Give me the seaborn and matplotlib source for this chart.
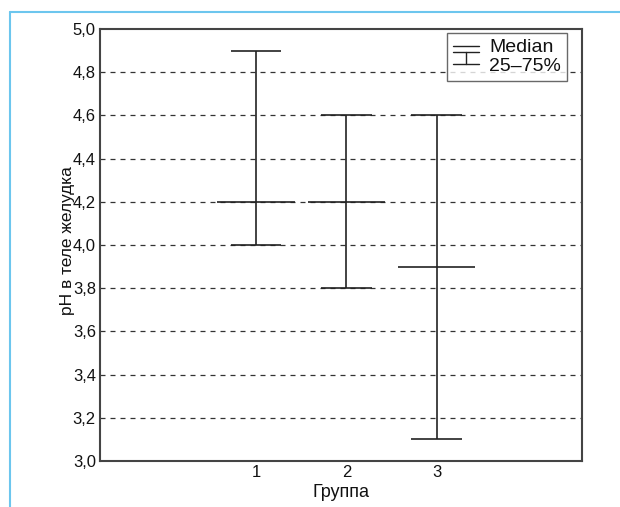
import numpy as np
import matplotlib
matplotlib.use("Agg")
import matplotlib.pyplot as plt
import seaborn as sns
from matplotlib.lines import Line2D
from matplotlib.legend_handler import HandlerBase
from matplotlib.ticker import FuncFormatter

# data
groups = [1, 2, 3]
medians = [4.2, 4.2, 3.9]
q25 = [4.0, 3.8, 3.1]
q75 = [4.9, 4.6, 4.6]

sns.set_style("white")
plt.rcParams['font.family'] = ['Liberation Sans', 'DejaVu Sans']

fig = plt.figure(figsize=(6.2, 5.07), dpi=100)
ax = fig.add_axes([100 / 620, 1 - 461 / 507, 482 / 620, 432 / 507])

dark = "#222222"
g = np.array(groups)
ax.vlines(groups, q25, q75, color=dark, lw=1.2)
ax.hlines(q25, g - 0.28, g + 0.28, color=dark, lw=1.2)
ax.hlines(q75, g - 0.28, g + 0.28, color=dark, lw=1.2)
ax.hlines(medians, g - 0.43, g + 0.43, color=dark, lw=1.2)

ax.set_xlim(-0.73, 4.61)
ax.set_ylim(3.0, 5.0)
ax.set_xticks(groups)
ax.set_yticks(np.arange(3.0, 5.01, 0.2))
ax.yaxis.set_major_formatter(FuncFormatter(lambda v, p: f"{v:.1f}".replace(".", ",")))
ax.tick_params(length=0, labelsize=12, pad=3, colors="#111111")
for yv in np.arange(3.2, 4.81, 0.2):
    ax.axhline(yv, color="#333333", lw=0.9, ls=(0, (4, 4)), zorder=0)
for s in ax.spines.values():
    s.set_color("#444444")
    s.set_linewidth(1.5)

ax.set_ylabel("pH в теле желудка", fontsize=12.5, labelpad=0, color="#111111")
ax.yaxis.set_label_coords(-0.052, 0.51)
ax.set_xlabel("Группа", fontsize=13, labelpad=3, color="#111111")


class RangeHandler(HandlerBase):
    def create_artists(self, legend, orig, xd, yd, w, h, fontsize, trans):
        cx = xd + w / 2
        top = yd + h * 1.4
        bot = yd + h * 0.55
        a = Line2D([xd, xd + w], [top, top], color=dark, lw=1.0, transform=trans)
        b = Line2D([xd, xd + w], [bot, bot], color=dark, lw=1.0, transform=trans)
        c = Line2D([cx, cx], [bot, top], color=dark, lw=1.0, transform=trans)
        return [a, b, c]


med_handle = Line2D([], [], color=dark, lw=1.0)
rng_handle = Line2D([], [], color=dark, lw=1.0)
leg = ax.legend([med_handle, rng_handle], ["Median", "25–75%"], loc="upper right",
                bbox_to_anchor=((567 - 100) / 482, (461 - 33) / 432),
                fontsize=14, frameon=True, fancybox=False, handlelength=1.34,
                handletextpad=0.55, borderaxespad=0, borderpad=0.3, labelspacing=0.05,
                handler_map={rng_handle: RangeHandler()})
leg.get_frame().set_edgecolor("#444444")
leg.get_frame().set_linewidth(1.0)
for t in leg.get_texts():
    t.set_color("#111111")

# light blue frame of the figure panel
fig.add_artist(Line2D([10 / 620, 10 / 620], [0, 1 - 12 / 507], color="#6cc6ee", lw=1.5,
                      transform=fig.transFigure))
fig.add_artist(Line2D([10 / 620, 1], [1 - 12 / 507, 1 - 12 / 507], color="#6cc6ee", lw=1.5,
                      transform=fig.transFigure))

fig.savefig("out.png", dpi=100)
